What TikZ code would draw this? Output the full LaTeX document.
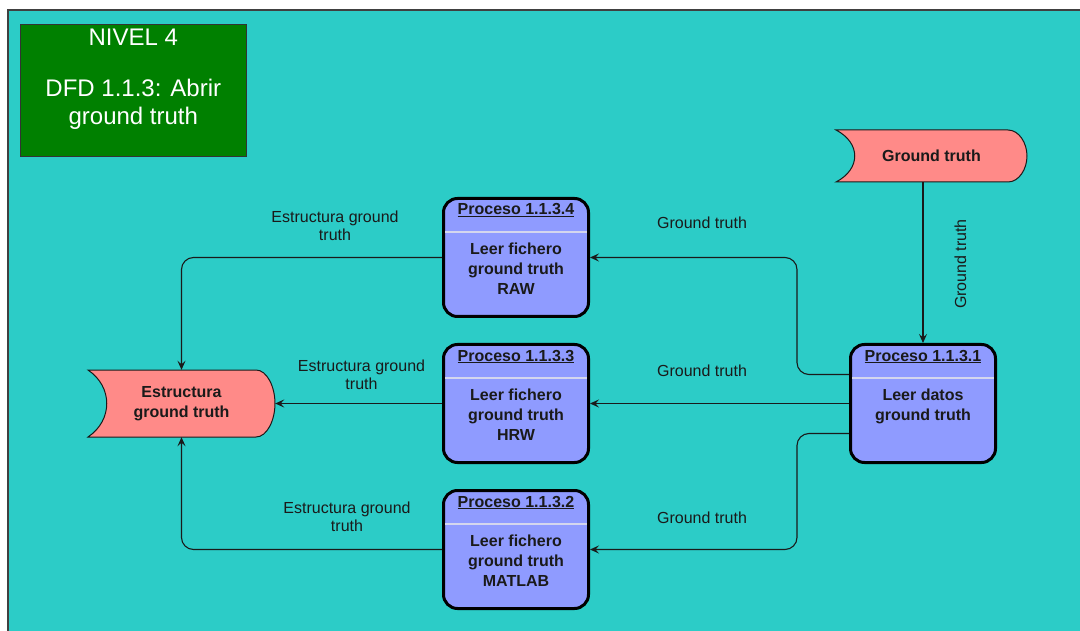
\documentclass[tikz,border=0pt]{standalone}
\usepackage{fontspec}
\setmainfont{Liberation Sans}
\usetikzlibrary{arrows.meta, positioning}

\definecolor{bgteal}{HTML}{2CCCC7}
\definecolor{boxgreen}{HTML}{008000}
\definecolor{procblue}{HTML}{8F9BFF}
\definecolor{entpink}{HTML}{FF8A88}
\definecolor{sepgrey}{HTML}{D4D6EE}
\definecolor{ink}{HTML}{1A1A1A}

\begin{document}
\begin{tikzpicture}[
    x=1pt, y=-1pt,
    every node/.style={inner sep=0pt, text=ink},
    titletext/.style={font=\fontsize{24}{28}\selectfont, text=white, anchor=base},
    proc/.style={draw=black, line width=3pt, fill=procblue, rounded corners=14pt, minimum width=145pt, minimum height=118pt},
    proctitle/.style={font=\fontsize{16}{18}\selectfont\bfseries, anchor=base},
    procbody/.style={font=\fontsize{16}{20}\selectfont\bfseries, align=center, anchor=north},
    divider/.style={draw=sepgrey, line width=2pt, shorten <=3pt, shorten >=3pt},
    ent/.style={font=\fontsize{16}{19.5}\selectfont\bfseries, align=center},
    lbl/.style={font=\fontsize{16}{18}\selectfont, align=center},
    arrow/.style={-{Stealth[length=9pt, width=8pt, inset=3.5pt]}, line width=1.1pt, draw=ink, rounded corners=12pt},
    pics/banner/.style n args={2}{code={
        \draw[draw=ink, line width=1pt, fill=entpink]
            (-#1,-#2) -- (#1-19,-#2) .. controls (#1-8,-#2) and (#1,-#2/2) .. (#1,0)
            .. controls (#1,#2/2) and (#1-8,#2) .. (#1-19,#2) -- (-#1,#2)
            .. controls (-#1+25,#2/2) and (-#1+25,-#2/2) .. cycle;
    }}
]
    \useasboundingbox (0,0) rectangle (1080,631);
    \draw[draw=black!75, line width=1.5pt, fill=bgteal] (8,10) rectangle (1090,640);

    % title box
    \node[draw=black!80, line width=1.5pt, fill=boxgreen, minimum width=226pt, minimum height=132pt] (nivel) at (133.3,90.3) {};
    \node[titletext] (nivelnum) at (133.3,46) {NIVEL 4};
    \node[titletext] (dfd) at (133.3,97) {DFD 1.1.3: Abrir};
    \node[titletext] (dfdname) at ([yshift=-28pt]dfd.base) {ground truth};

    % external entities
    \pic at (931.5,156) {banner={95.5}{26}};
    \node[ent, minimum width=191pt, minimum height=52pt] (gt) at (931.5,156) {Ground truth};
    \pic at (181.5,403.5) {banner={93.5}{33.5}};
    \node[ent, minimum width=187pt, minimum height=67pt] (est) at (181.5,403.5) {Estructura\\ground truth};

    % processes
    \node[proc] (p1131) at (923,403.5) {};
    \node[proctitle] (t1131) at ([yshift=-18pt]p1131.north) {\underline{Proceso 1.1.3.1}};
    \draw[divider] ([yshift=-35pt]p1131.north west) -- ([yshift=-35pt]p1131.north east);
    \node[procbody] (b1131) at ([yshift=-45.5pt]p1131.north) {Leer datos\\ground truth};

    \node[proc] (p1134) at (516,257.5) {};
    \node[proctitle] (t1134) at ([yshift=-18pt]p1134.north) {\underline{Proceso 1.1.3.4}};
    \draw[divider] ([yshift=-35pt]p1134.north west) -- ([yshift=-35pt]p1134.north east);
    \node[procbody] (b1134) at ([yshift=-45.5pt]p1134.north) {Leer fichero\\ground truth\\RAW};

    \node[proc] (p1133) at (516,403.5) {};
    \node[proctitle] (t1133) at ([yshift=-18pt]p1133.north) {\underline{Proceso 1.1.3.3}};
    \draw[divider] ([yshift=-35pt]p1133.north west) -- ([yshift=-35pt]p1133.north east);
    \node[procbody] (b1133) at ([yshift=-45.5pt]p1133.north) {Leer fichero\\ground truth\\HRW};

    \node[proc] (p1132) at (516,549.5) {};
    \node[proctitle] (t1132) at ([yshift=-18pt]p1132.north) {\underline{Proceso 1.1.3.2}};
    \draw[divider] ([yshift=-35pt]p1132.north west) -- ([yshift=-35pt]p1132.north east);
    \node[procbody] (b1132) at ([yshift=-45.5pt]p1132.north) {Leer fichero\\ground truth\\MATLAB};

    % data flows
    \coordinate (split) at (797,403.5);
    \draw[arrow] (gt.south -| p1131.north) -- (p1131.north);
    \draw[arrow] ([yshift=29pt]p1131.west) -| (split |- p1134.east) -- (p1134.east);
    \draw[arrow] (p1131.west) -- (p1133.east);
    \draw[arrow] ([yshift=-30pt]p1131.west) -| (split |- p1132.east) -- (p1132.east);
    \draw[arrow] (p1134.west) -| (est.north);
    \draw[arrow] (p1133.west) -- (est.east);
    \draw[arrow] (p1132.west) -| (est.south);

    % flow labels
    \node[lbl, rotate=90, anchor=base] (lgt) at (966,264) {Ground truth};
    \node[lbl, anchor=base] (l1134) at (702,229) {Ground truth};
    \node[lbl, anchor=base] (l1133) at (702,376) {Ground truth};
    \node[lbl, anchor=base] (l1132) at (702,523) {Ground truth};
    \node[lbl] (e1134) at (335,226) {Estructura ground\\truth};
    \node[lbl] (e1133) at (361.5,374.3) {Estructura ground\\truth};
    \node[lbl] (e1132) at (347,516.8) {Estructura ground\\truth};
\end{tikzpicture}
\end{document}
